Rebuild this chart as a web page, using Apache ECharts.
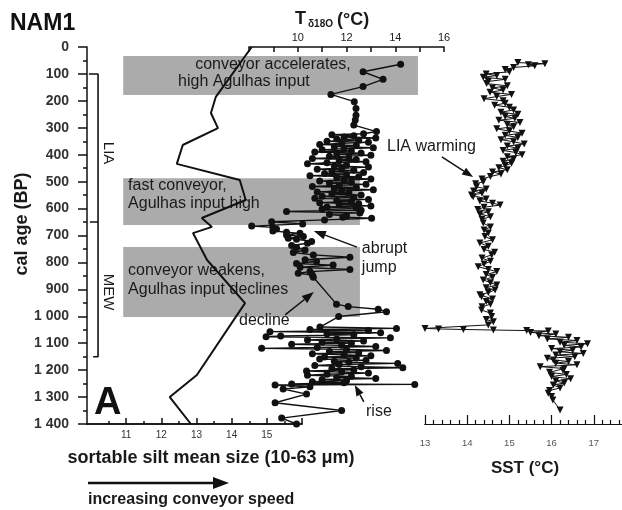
<!DOCTYPE html>
<html><head><meta charset="utf-8">
<script src="https://cdn.jsdelivr.net/npm/echarts@6/dist/echarts.min.js"></script>
<style>html,body{margin:0;padding:0;background:#fff}#c{width:622px;height:510px}</style>
</head><body><div id="c"></div>
<script>
const FONT = '"Liberation Sans", Arial, Helvetica, sans-serif';
const INK = '#111';

// ---- Sortable silt mean size (µm) vs cal age (BP)
const siltAge  = [0, 185, 245, 301, 364, 434, 494, 568, 635, 668, 691, 791, 951, 1218, 1300, 1400];
const siltSize = [14.57, 13.55, 13.41, 13.61, 12.61, 12.44, 14.23, 14.40, 13.15, 13.44, 12.90, 13.30, 14.38, 13.01, 12.24, 12.84];

// ---- T δ18O (°C) vs cal age (BP)
const tAge = [64, 92, 120, 147, 176, 203, 228, 253, 271, 290, 314,
  322, 326, 330, 334, 338, 342, 346, 350, 354, 358, 362, 366, 370, 374, 378, 382, 386, 390, 394, 398,
  402, 406, 410, 414, 418, 422, 426, 430, 434, 438, 442, 446, 450, 454, 458, 462, 466, 470, 474, 478,
  482, 486, 490, 494, 498, 502, 506, 510, 514, 518, 522, 526, 530, 534, 538, 542, 546, 550, 554, 558,
  562, 566, 570, 574, 578, 582, 586, 590, 594, 598, 602, 606, 611, 616, 622, 628, 632, 636, 642, 649,
  657, 665, 670, 676, 683, 688, 692, 698, 704, 710, 714, 722, 729, 737, 745, 754, 763, 772, 781, 790,
  797, 804, 810, 818, 826, 834, 840, 847, 855, 955, 964, 974, 983, 1001, 1040,
  1045, 1049, 1053, 1057, 1061, 1065, 1069, 1073, 1076, 1080, 1084, 1088, 1092, 1096, 1100, 1104, 1108,
  1112, 1116, 1119, 1123, 1127, 1131, 1135, 1139, 1143, 1147, 1151, 1155, 1159, 1163, 1167, 1171, 1175,
  1179, 1183, 1187, 1191, 1195, 1199, 1203, 1207, 1211, 1215, 1219, 1223, 1227, 1231, 1235, 1239, 1243,
  1247, 1251, 1253, 1255, 1262, 1270, 1289, 1321, 1350, 1378, 1400];
const tValue = [14.22, 12.68, 13.50, 12.68, 11.36, 12.32, 12.39, 12.39, 12.36, 12.30, 13.23,
  12.7, 11.4, 12.3, 11.9, 13.2, 11.6, 12.5, 11.2, 12.9, 11.8, 10.9, 12.4, 11.5, 13.1, 11.9, 11.0, 12.2, 10.7, 12.6, 11.6,
  13.0, 11.3, 12.1, 10.6, 12.4, 11.7, 12.8, 11.2, 10.4, 12.0, 11.5, 12.9, 11.8, 10.8, 12.3, 11.4, 12.7, 11.1, 12.0, 10.5,
  12.5, 11.6, 13.0, 11.9, 10.9, 12.2, 11.3, 12.8, 11.7, 10.6, 12.4, 11.5, 13.1, 11.8, 10.8, 12.1, 11.4, 12.6, 11.0, 12.3,
  10.7, 12.9, 11.6, 12.2, 10.9, 12.5, 11.7, 13.0, 11.2, 12.4, 11.0, 12.6, 9.54, 12.55, 11.3, 12.0, 11.85, 13.03, 11.1, 8.93,
  10.2, 8.11, 8.98, 9.13, 8.98, 9.54, 10.09, 9.54, 10.23, 9.61, 9.95, 10.57, 10.4, 9.75, 9.95, 10.3, 9.82, 10.64, 12.14, 10.3,
  10.77, 9.95, 11.45, 10.1, 12.14, 10.5, 10.02, 10.6, 10.64, 11.59, 12.07, 13.30, 13.64, 11.68, 10.91,
  14.05, 10.5, 12.9, 8.86, 13.4, 11.2, 12.3, 9.3, 8.70, 13.8, 11.6, 10.4, 12.7, 11.0, 12.2, 9.75, 11.8,
  13.2, 10.8, 8.52, 12.0, 13.64, 11.3, 12.5, 10.6, 11.9, 13.0, 11.1, 12.4, 10.9, 12.8, 11.5, 12.1, 14.1,
  11.7, 10.7, 12.6, 14.31, 11.4, 12.3, 10.36, 11.8, 12.9, 11.2, 10.4, 12.2, 11.6, 13.2, 11.0, 12.0, 10.6,
  11.9, 9.75, 14.8, 9.07, 10.5, 9.4, 10.36, 9.07, 11.80, 9.34, 9.95];

// ---- SST (°C) vs cal age (BP)
const sstAge = [58, 62, 66, 70, 76, 84, 92, 100, 106, 112, 120, 128, 136, 144, 152, 160, 168, 176, 184, 192,
  200, 209, 216, 224, 234, 242, 250, 258, 265, 272, 280, 288, 296, 304, 312, 320, 328, 336, 344, 352,
  360, 368, 376, 384, 392, 400, 408, 416, 424, 432, 440, 448, 456, 464, 472, 481, 490, 500, 508, 519,
  527, 535, 543, 550, 556, 564, 572, 580, 587, 595, 603, 612, 620, 630, 640, 654, 668, 680, 691, 704,
  716, 728, 740, 752, 762, 772, 784, 796, 806, 816, 826, 834, 845, 855, 865, 875, 884, 894, 902, 912,
  920, 927, 936, 945, 955, 965, 977, 988, 1001, 1012, 1020, 1032, 1045, 1047, 1049, 1051, 1053, 1055,
  1060, 1066, 1072, 1078, 1084, 1090, 1096, 1102, 1108, 1114, 1120, 1126, 1132, 1138, 1144, 1150, 1156,
  1162, 1168, 1174, 1180, 1187, 1194, 1200, 1208, 1216, 1224, 1232, 1240, 1248, 1255, 1266, 1276, 1286,
  1298, 1311, 1348];
const sstValue = [15.2, 15.84, 15.45, 15.6, 15.1, 14.9, 15.0, 14.45, 14.7, 14.38, 14.9, 14.5, 14.46, 14.95, 14.6, 14.85, 14.54, 15.05, 14.7, 14.4,
  14.85, 14.9, 14.65, 15.0, 15.1, 14.8, 15.2, 14.9, 15.13, 14.75, 15.25, 14.95, 15.1, 14.7, 15.0, 15.3, 14.9, 15.2, 14.8, 15.1,
  15.35, 14.95, 15.2, 14.85, 15.15, 15.3, 14.95, 15.1, 14.85, 15.05, 14.9, 14.75, 14.95, 14.6, 14.8, 14.55, 14.35, 14.38, 14.2, 14.22,
  14.45, 14.15, 14.35, 14.1, 14.14, 14.45, 14.3, 14.6, 14.78, 14.4, 14.25, 14.5, 14.3, 14.55, 14.35, 14.38, 14.55, 14.4, 14.5, 14.42,
  14.6, 14.3, 14.5, 14.4, 14.65, 14.58, 14.35, 14.55, 14.4, 14.26, 14.5, 14.7, 14.45, 14.6, 14.38, 14.55, 14.7, 14.45, 14.66, 14.5,
  14.3, 14.34, 14.6, 14.45, 14.55, 14.35, 14.34, 14.55, 14.58, 14.45, 14.62, 14.5, 13.0, 13.32, 13.91, 14.62, 15.41, 15.92,
  15.5, 16.1, 15.7, 16.4, 15.9, 16.6, 16.2, 16.85, 16.3, 16.7, 16.0, 16.5, 16.2, 16.75, 16.1, 16.55, 15.9,
  16.04, 16.4, 16.1, 16.6, 15.73, 16.3, 16.27, 15.95, 16.35, 16.0, 16.45, 16.1, 16.3, 16.04, 16.2, 15.95, 15.92,
  16.0, 16.03, 16.2];

// ---- Tick labels
const siltTickLabels = [11, 12, 13, 14, 15];
const siltHalfTicks = [10.5, 11.5, 12.5, 13.5, 14.5, 15.5];
const tTickLabels = [10, 12, 14, 16];
const sstTickLabels = [13, 14, 15, 16, 17];
const sstMinorTicks = [];
for (let k = 66; k <= 88; k++) { if (k % 5 !== 0) sstMinorTicks.push(+(k * 0.2).toFixed(1)); }

// ---- Interpretation boxes (age range, right end in T units)
const boxAgeTop = [33, 487, 743];
const boxAgeBottom = [178, 661, 1003];
const boxRightT = [14.93, 12.55, 12.55];
const boxLeftT = 2.84;
const boxTexts = [
  [['conveyor accelerates,', 5.79, 67], ['high Agulhas input', 5.09, 130]],
  [['fast conveyor,', 3.04, 516], ['Agulhas input high', 3.04, 583]],
  [['conveyor weakens,', 3.04, 829], ['Agulhas input declines', 3.04, 902]]
];

// ---- Periods (bracket)
const periodBounds = [100, 650, 1150];
const periodNames = ['LIA', 'MEW'];

const zip = (xs, ys) => xs.map((x, i) => [x, ys[i]]);
const ageFmt = v => v >= 1000 ? Math.floor(v / 1000) + ' ' + String(v % 1000).padStart(3, '0') : String(v);

const GRID_TOP = 47, GRID_H = 377;
const yBase = { type: 'value', inverse: true, min: 0, max: 1400 };
const lineSilt = { show: true, onZero: false, lineStyle: { color: INK, width: 1.5 } };
const lineSst = { show: true, onZero: false, lineStyle: { color: INK, width: 1.2 } };

const chart = echarts.init(document.getElementById('c'), null, { renderer: 'canvas', width: 622, height: 510 });

const option = {
  animation: false,
  backgroundColor: '#fff',
  textStyle: { fontFamily: FONT },
  grid: [
    { left: 87, top: GRID_TOP, width: 215, height: GRID_H, outerBoundsMode: 'none', containLabel: false },
    { left: 249, top: GRID_TOP, width: 195, height: GRID_H, outerBoundsMode: 'none', containLabel: false },
    { left: 425, top: GRID_TOP, width: 197, height: GRID_H, outerBoundsMode: 'none', containLabel: false }
  ],
  xAxis: [
    { gridIndex: 0, type: 'value', position: 'bottom', min: 9.886, max: 16.0,
      axisLine: lineSilt,
      axisTick: { show: true, inside: true, length: 6, customValues: siltTickLabels.concat([16]), lineStyle: { color: INK, width: 1.5 } },
      axisLabel: { show: true, customValues: siltTickLabels, fontSize: 10, color: '#333', margin: 6, fontFamily: FONT },
      splitLine: { show: false } },
    { gridIndex: 0, type: 'value', position: 'bottom', min: 9.886, max: 16.0,
      axisLine: lineSilt,
      axisTick: { show: true, inside: true, length: 3, customValues: siltHalfTicks, lineStyle: { color: INK, width: 1.5 } },
      axisLabel: { show: false }, splitLine: { show: false } },
    { gridIndex: 1, type: 'value', position: 'top', min: 8, max: 16, interval: 1,
      axisLine: { show: true, onZero: false, lineStyle: { color: INK, width: 1.5 } },
      axisTick: { show: true, inside: true, length: 5, lineStyle: { color: INK, width: 1.5 } },
      axisLabel: { show: true, fontSize: 11, color: '#222', margin: 4, fontFamily: FONT,
        formatter: v => tTickLabels.indexOf(v) >= 0 ? String(v) : '' },
      splitLine: { show: false } },
    { gridIndex: 2, type: 'value', position: 'bottom', min: 13, max: 17.668,
      axisLine: lineSst,
      axisTick: { show: true, inside: true, length: 9, customValues: sstTickLabels, lineStyle: { color: INK, width: 1.2 } },
      axisLabel: { show: true, customValues: sstTickLabels, fontSize: 9.5, color: '#555', margin: 14, fontFamily: FONT },
      splitLine: { show: false } },
    { gridIndex: 2, type: 'value', position: 'bottom', min: 13, max: 17.668,
      axisLine: lineSst,
      axisTick: { show: true, inside: true, length: 4, customValues: sstMinorTicks, lineStyle: { color: INK, width: 1.2 } },
      axisLabel: { show: false }, splitLine: { show: false } }
  ],
  yAxis: [
    Object.assign({ gridIndex: 0, interval: 100,
      axisLine: { show: true, onZero: false, lineStyle: { color: INK, width: 1.5 } },
      axisTick: { show: true, inside: false, length: 9, lineStyle: { color: INK, width: 1.5 } },
      minorTick: { show: true, splitNumber: 2, length: 4, lineStyle: { color: INK, width: 1.5 } },
      axisLabel: { show: true, fontSize: 14, fontWeight: 'bold', color: '#333', margin: 18, formatter: ageFmt, fontFamily: FONT },
      splitLine: { show: false }, minorSplitLine: { show: false } }, yBase),
    Object.assign({ gridIndex: 1, show: false }, yBase),
    Object.assign({ gridIndex: 2, show: false }, yBase)
  ],
  series: [
    { // interpretation boxes with text
      type: 'custom', xAxisIndex: 2, yAxisIndex: 1, clip: false, z: 1, silent: true,
      data: boxAgeTop.map((t, i) => [boxLeftT, t, boxRightT[i], boxAgeBottom[i]]),
      encode: { x: [0, 2], y: [1, 3] },
      renderItem: (params, api) => {
        const i = params.dataIndex;
        const p0 = api.coord([api.value(0), api.value(1)]);
        const p1 = api.coord([api.value(2), api.value(3)]);
        const children = [{ type: 'rect', shape: { x: p0[0], y: p0[1], width: p1[0] - p0[0], height: p1[1] - p0[1] },
          style: { fill: '#ababab' } }];
        boxTexts[i].forEach(([txt, tx, ty]) => {
          const p = api.coord([tx, ty]);
          children.push({ type: 'text', x: p[0], y: p[1],
            style: { text: txt, font: '16px ' + FONT, fill: '#1a1a1a', textAlign: 'left', textVerticalAlign: 'middle', align: 'left', verticalAlign: 'middle' } });
        });
        return { type: 'group', children };
      }
    },
    { // period bracket
      type: 'line', xAxisIndex: 0, yAxisIndex: 0, symbol: 'none', z: 3, silent: true,
      data: [[9.94, periodBounds[0]], [10.2, periodBounds[0]], [10.2, periodBounds[2]], [10.06, periodBounds[2]]],
      lineStyle: { color: INK, width: 1.6 }
    },
    { type: 'line', xAxisIndex: 0, yAxisIndex: 0, symbol: 'none', z: 3, silent: true,
      data: [[9.97, periodBounds[1]], [10.2, periodBounds[1]]],
      lineStyle: { color: INK, width: 1.6 } },
    { // sortable silt
      type: 'line', xAxisIndex: 0, yAxisIndex: 0, symbol: 'none', z: 5, clip: false,
      data: zip(siltSize, siltAge), lineStyle: { color: INK, width: 2 }
    },
    { // T d18O
      type: 'line', xAxisIndex: 2, yAxisIndex: 1, symbol: 'circle', symbolSize: 7, z: 6, clip: false,
      data: zip(tValue, tAge), lineStyle: { color: INK, width: 1.4 }, itemStyle: { color: INK }
    },
    { // SST
      type: 'line', xAxisIndex: 3, yAxisIndex: 2, symbol: 'triangle', symbolRotate: 180, symbolSize: 7, z: 6, clip: false,
      data: zip(sstValue, sstAge), lineStyle: { color: INK, width: 1 }, itemStyle: { color: INK }
    }
  ]
};
chart.setOption(option);

// ---- Annotations positioned through the axes
const SILT = 3, TSER = 4, SSTSER = 5;
const toPx = (s, x, y) => chart.convertToPixel({ seriesIndex: s }, [x, y]);
function txt(p, text, size, opts) {
  return Object.assign({ type: 'text', x: p[0], y: p[1], z: 20,
    style: { text, font: (opts && opts.bold ? 'bold ' : '') + size + 'px ' + FONT, fill: '#1a1a1a',
      textAlign: (opts && opts.align) || 'left', align: (opts && opts.align) || 'left',
      textVerticalAlign: 'middle', verticalAlign: 'middle' } }, opts && opts.rot !== undefined ? { rotation: opts.rot } : {});
}
function arrow(p0, p1, head, w, lw) {
  const dx = p1[0] - p0[0], dy = p1[1] - p0[1], L = Math.hypot(dx, dy), ux = dx / L, uy = dy / L;
  const bx = p1[0] - ux * head, by = p1[1] - uy * head, nx = -uy, ny = ux;
  return [
    { type: 'line', z: 20, shape: { x1: p0[0], y1: p0[1], x2: bx, y2: by }, style: { stroke: INK, lineWidth: lw } },
    { type: 'polygon', z: 20, shape: { points: [[p1[0], p1[1]], [bx + nx * w / 2, by + ny * w / 2], [bx - nx * w / 2, by - ny * w / 2]] }, style: { fill: INK } }
  ];
}

const g = [];
// period labels
g.push(txt(toPx(SILT, 10.48, 394), periodNames[0], 15, { align: 'center', rot: -Math.PI / 2 }));
g.push(txt(toPx(SILT, 10.48, 910), periodNames[1], 15, { align: 'center', rot: -Math.PI / 2 }));
// arrow annotations
g.push(txt(toPx(SSTSER, 12.10, 368), 'LIA warming', 16));
g.push(...arrow(toPx(SSTSER, 13.40, 408), toPx(SSTSER, 14.14, 483), 11, 8, 1.5));
g.push(txt(toPx(TSER, 12.63, 750), 'abrupt', 16));
g.push(txt(toPx(TSER, 12.63, 819), 'jump', 16));
g.push(...arrow(toPx(TSER, 12.43, 743), toPx(TSER, 10.66, 683), 12, 9, 1.5));
g.push(txt(toPx(TSER, 7.59, 1017), 'decline', 16));
g.push(...arrow(toPx(TSER, 9.48, 995), toPx(TSER, 10.66, 910), 12, 9, 1.5));
g.push(txt(toPx(TSER, 12.80, 1353), 'rise', 16));
g.push(...arrow(toPx(TSER, 12.71, 1318), toPx(TSER, 12.34, 1255), 11, 8, 1.5));

// titles
g.push({ type: 'text', x: 10, y: 24, z: 20, style: { text: 'NAM1', font: 'bold 23px ' + FONT, fill: INK, textVerticalAlign: 'middle', verticalAlign: 'middle' } });
g.push({ type: 'text', x: 94, y: 404, z: 20, style: { text: 'A', font: 'bold 38px ' + FONT, fill: INK, textVerticalAlign: 'middle', verticalAlign: 'middle' } });
g.push(txt([22, 224], 'cal age (BP)', 18, { bold: true, align: 'center', rot: Math.PI / 2 }));
g.push(txt([295, 19], 'T', 18, { bold: true }));
g.push(txt([308, 24], 'δ18O', 10, { bold: true }));
g.push(txt([337, 20], '(°C)', 18, { bold: true }));
g.push(txt([211, 458], 'sortable silt mean size (10-63 μm)', 18, { bold: true, align: 'center' }));
g.push(txt([525, 468], 'SST (°C)', 17, { bold: true, align: 'center' }));
g.push(txt([88, 500], 'increasing conveyor speed', 16, { bold: true }));
g.push({ type: 'line', z: 20, shape: { x1: 88, y1: 483, x2: 214, y2: 483 }, style: { stroke: INK, lineWidth: 2.5 } });
g.push({ type: 'polygon', z: 20, shape: { points: [[229, 483], [213, 477], [213, 489]] }, style: { fill: INK } });

chart.setOption({ graphic: { elements: g } });
</script>
</body></html>
